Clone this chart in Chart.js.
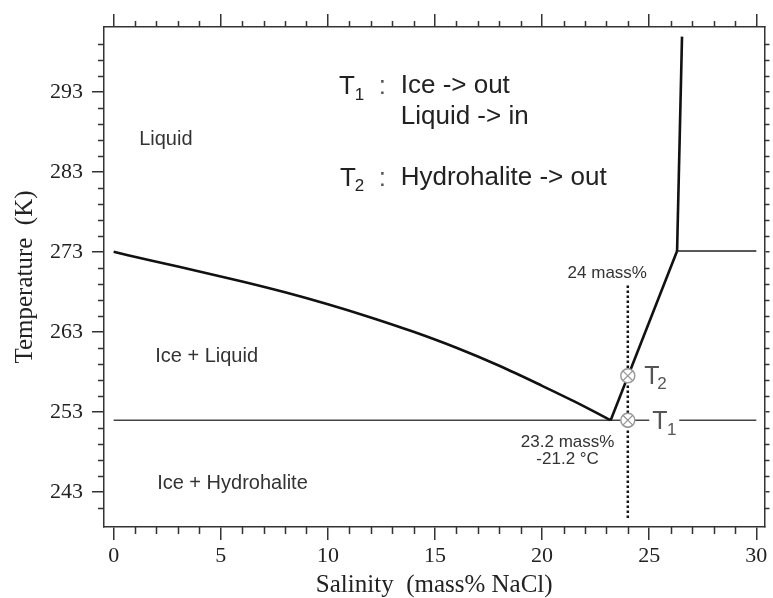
<!DOCTYPE html>
<html>
<head>
<meta charset="utf-8">
<script src="https://cdn.jsdelivr.net/npm/chart.js@4/dist/chart.umd.min.js"></script>
<style>
  html, body { margin: 0; padding: 0; background: #fff; }
  canvas { display: block; }
</style>
</head>
<body>
<canvas id="c" width="773" height="598"></canvas>
<script>
// ---- Data ----
const salinityTicks = [0, 5, 10, 15, 20, 25, 30];
const salinityMinorTicks = [1, 2, 3, 4, 6, 7, 8, 9, 11, 12, 13, 14, 16, 17, 18, 19, 21, 22, 23, 24, 26, 27, 28, 29];
const temperatureTicks = [243, 253, 263, 273, 283, 293];
const temperatureMinorTicks = [241, 245, 247, 249, 251, 255, 257, 259, 261, 265, 267, 269, 271, 275, 277, 279, 281, 285, 287, 289, 291, 295, 297, 299];

// Ice liquidus (freezing curve)
const iceLiquidusSalinity = [0, 2, 4, 6, 8, 10, 12, 14, 16, 18, 20, 21.5, 23.2];
const iceLiquidusTemp = [273.0, 271.75, 270.55, 269.3, 267.95, 266.45, 264.8, 263.0, 261.0, 258.75, 256.25, 254.3, 251.95];
// Hydrohalite liquidus
const hydrohaliteSalinity = [23.2, 26.3];
const hydrohaliteTemp = [251.95, 273.1];
// Halite liquidus
const haliteSalinity = [26.3, 26.53];
const haliteTemp = [273.1, 299.9];
// Peritectic horizontal
const peritecticSalinity = [26.3, 30];
const peritecticTemp = [273.1, 273.1];
// Eutectic horizontal
const eutecticSalinity = [0, 30];
const eutecticTemp = [251.95, 251.95];
// 24 mass% dotted path
const pathSalinity = [24, 24];
const pathTemp = [268.8, 239.7];
// Markers T1, T2
const markerSalinity = [24, 24];
const markerTemp = [251.95, 257.5];

const toPoints = (xs, ys) => xs.map((x, i) => ({ x: x, y: ys[i] }));

// ---- Text annotations (data coordinates) ----
const SANS = '"Liberation Sans", Arial, sans-serif';
const annotations = [
  { text: 'Liquid', x: 1.19, y: 286.34, size: 20, color: '#333' },
  { text: 'Ice + Liquid', x: 1.94, y: 259.17, size: 20, color: '#333' },
  { text: 'Ice + Hydrohalite', x: 2.03, y: 243.3, size: 20, color: '#333' },
  { text: 'T', x: 10.52, y: 292.71, size: 26, color: '#222' },
  { text: '1', x: 11.26, y: 292.03, size: 17, color: '#222' },
  { text: ':', x: 12.38, y: 292.71, size: 26, color: '#555' },
  { text: 'Ice -> out', x: 13.4, y: 292.8, size: 26, color: '#222' },
  { text: 'Liquid -> in', x: 13.4, y: 288.96, size: 26, color: '#222' },
  { text: 'T', x: 10.57, y: 281.2, size: 26, color: '#222' },
  { text: '2', x: 11.26, y: 280.59, size: 17, color: '#222' },
  { text: ':', x: 12.38, y: 281.2, size: 26, color: '#555' },
  { text: 'Hydrohalite -> out', x: 13.4, y: 281.4, size: 26, color: '#222' },
  { text: '24 mass%', x: 21.19, y: 269.67, size: 17, color: '#333' },
  { text: '23.2 mass%', x: 21.19, y: 248.63, size: 17, color: '#333', align: 'center' },
  { text: '-21.2 \u00B0C', x: 21.19, y: 246.46, size: 17, color: '#333', align: 'center' },
  { text: 'T', x: 24.77, y: 256.5, size: 25, color: '#555' },
  { text: '2', x: 25.37, y: 255.84, size: 17, color: '#555' },
  { text: 'T', x: 25.14, y: 250.84, size: 25, color: '#555', bg: true },
  { text: '1', x: 25.83, y: 250.09, size: 17, color: '#555' }
];

const minorTicksPlugin = {
  id: 'minorTicks',
  afterDraw(chart) {
    const ctx = chart.ctx, a = chart.chartArea;
    const xs = chart.scales.x, ys = chart.scales.y;
    ctx.save();
    ctx.strokeStyle = '#333';
    ctx.lineWidth = 1.5;
    ctx.beginPath();
    salinityMinorTicks.forEach(v => {
      const p = Math.round(xs.getPixelForValue(v)) + 0.5;
      ctx.moveTo(p, a.bottom); ctx.lineTo(p, a.bottom + 7);
      ctx.moveTo(p, a.top); ctx.lineTo(p, a.top - 6);
    });
    temperatureMinorTicks.forEach(v => {
      const p = Math.round(ys.getPixelForValue(v)) + 0.5;
      ctx.moveTo(a.left, p); ctx.lineTo(a.left - 6, p);
      ctx.moveTo(a.right, p); ctx.lineTo(a.right + 5, p);
    });
    ctx.stroke();
    ctx.restore();
  }
};

const annotationPlugin = {
  id: 'textAnnotations',
  afterDatasetsDraw(chart) {
    const ctx = chart.ctx;
    const xs = chart.scales.x, ys = chart.scales.y;
    ctx.save();
    ctx.textBaseline = 'alphabetic';
    annotations.forEach(an => {
      ctx.font = an.size + 'px ' + SANS;
      ctx.textAlign = an.align || 'left';
      const px = xs.getPixelForValue(an.x);
      const py = ys.getPixelForValue(an.y);
      if (an.bg) {
        ctx.fillStyle = '#fff';
        ctx.fillRect(px - 3, py - an.size * 0.8, 30, an.size * 1.1);
      }
      ctx.fillStyle = an.color;
      ctx.fillText(an.text, px, py);
    });
    ctx.restore();
  }
};

const frameColor = '#333';
const baseGrid = { drawOnChartArea: false, drawTicks: true, tickLength: 12, color: frameColor, lineWidth: 1.5 };
const baseBorder = { display: true, color: frameColor, width: 1.5 };

new Chart(document.getElementById('c'), {
  type: 'scatter',
  data: {
    datasets: [
      { label: 'marker cross', data: toPoints(markerSalinity, markerTemp), pointStyle: 'crossRot', pointRadius: 7,
        borderColor: '#999', backgroundColor: '#999', borderWidth: 1.3, showLine: false },
      { label: 'markers', data: toPoints(markerSalinity, markerTemp), pointStyle: 'circle', pointRadius: 7,
        borderColor: '#999', backgroundColor: '#fff', borderWidth: 1.5, showLine: false },
      { label: 'ice liquidus', data: toPoints(iceLiquidusSalinity, iceLiquidusTemp), showLine: true,
        borderColor: '#111', borderWidth: 2.6, pointRadius: 0, cubicInterpolationMode: 'monotone' },
      { label: 'hydrohalite', data: toPoints(hydrohaliteSalinity, hydrohaliteTemp), showLine: true,
        borderColor: '#111', borderWidth: 2.6, pointRadius: 0 },
      { label: 'halite', data: toPoints(haliteSalinity, haliteTemp), showLine: true,
        borderColor: '#111', borderWidth: 2.6, pointRadius: 0 },
      { label: 'peritectic', data: toPoints(peritecticSalinity, peritecticTemp), showLine: true,
        borderColor: '#222', borderWidth: 1.6, pointRadius: 0 },
      { label: 'eutectic', data: toPoints(eutecticSalinity, eutecticTemp), showLine: true,
        borderColor: '#444', borderWidth: 1.6, pointRadius: 0 },
      { label: 'path', data: toPoints(pathSalinity, pathTemp), showLine: true,
        borderColor: '#111', borderWidth: 2.5, borderDash: [2.5, 2.5], pointRadius: 0 }
    ]
  },
  options: {
    responsive: false,
    animation: false,
    layout: { padding: 0 },
    plugins: { legend: { display: false }, tooltip: { enabled: false } },
    scales: {
      x: {
        type: 'linear', position: 'bottom', min: -0.45, max: 30.38,
        afterBuildTicks: s => { s.ticks = salinityTicks.map(v => ({ value: v })); },
        afterFit: s => { s.height = 71; },
        grid: Object.assign({}, baseGrid, { tickLength: 13 }),
        border: baseBorder,
        ticks: { padding: 3, color: '#222', font: { family: '"Liberation Serif", "Times New Roman", serif', size: 22 } },
        title: { display: true, text: 'Salinity  (mass% NaCl)', color: '#222', padding: { top: 0, bottom: 0 },
          font: { family: '"Liberation Serif", "Times New Roman", serif', size: 25, lineHeight: 1 } }
      },
      xTop: {
        type: 'linear', position: 'top', min: -0.45, max: 30.38,
        afterBuildTicks: s => { s.ticks = salinityTicks.map(v => ({ value: v })); },
        afterFit: s => { s.height = 27; },
        grid: Object.assign({}, baseGrid, { tickLength: 13 }),
        border: baseBorder,
        ticks: { display: false }
      },
      y: {
        type: 'linear', position: 'left', min: 238.6, max: 301.1,
        afterBuildTicks: s => { s.ticks = temperatureTicks.map(v => ({ value: v })); },
        afterFit: s => { s.width = 104; },
        grid: baseGrid,
        border: baseBorder,
        ticks: { padding: 9, color: '#222', font: { family: '"Liberation Serif", "Times New Roman", serif', size: 22 } },
        title: { display: true, text: 'Temperature  (K)', color: '#222', padding: { top: 10, bottom: 0 },
          font: { family: '"Liberation Serif", "Times New Roman", serif', size: 25, lineHeight: 1.2 } }
      },
      yRight: {
        type: 'linear', position: 'right', min: 238.6, max: 301.1,
        afterBuildTicks: s => { s.ticks = temperatureTicks.map(v => ({ value: v })); },
        afterFit: s => { s.width = 5; },
        grid: Object.assign({}, baseGrid, { tickLength: 5 }),
        border: baseBorder,
        ticks: { display: false }
      }
    }
  },
  plugins: [minorTicksPlugin, annotationPlugin]
});
</script>
</body>
</html>
